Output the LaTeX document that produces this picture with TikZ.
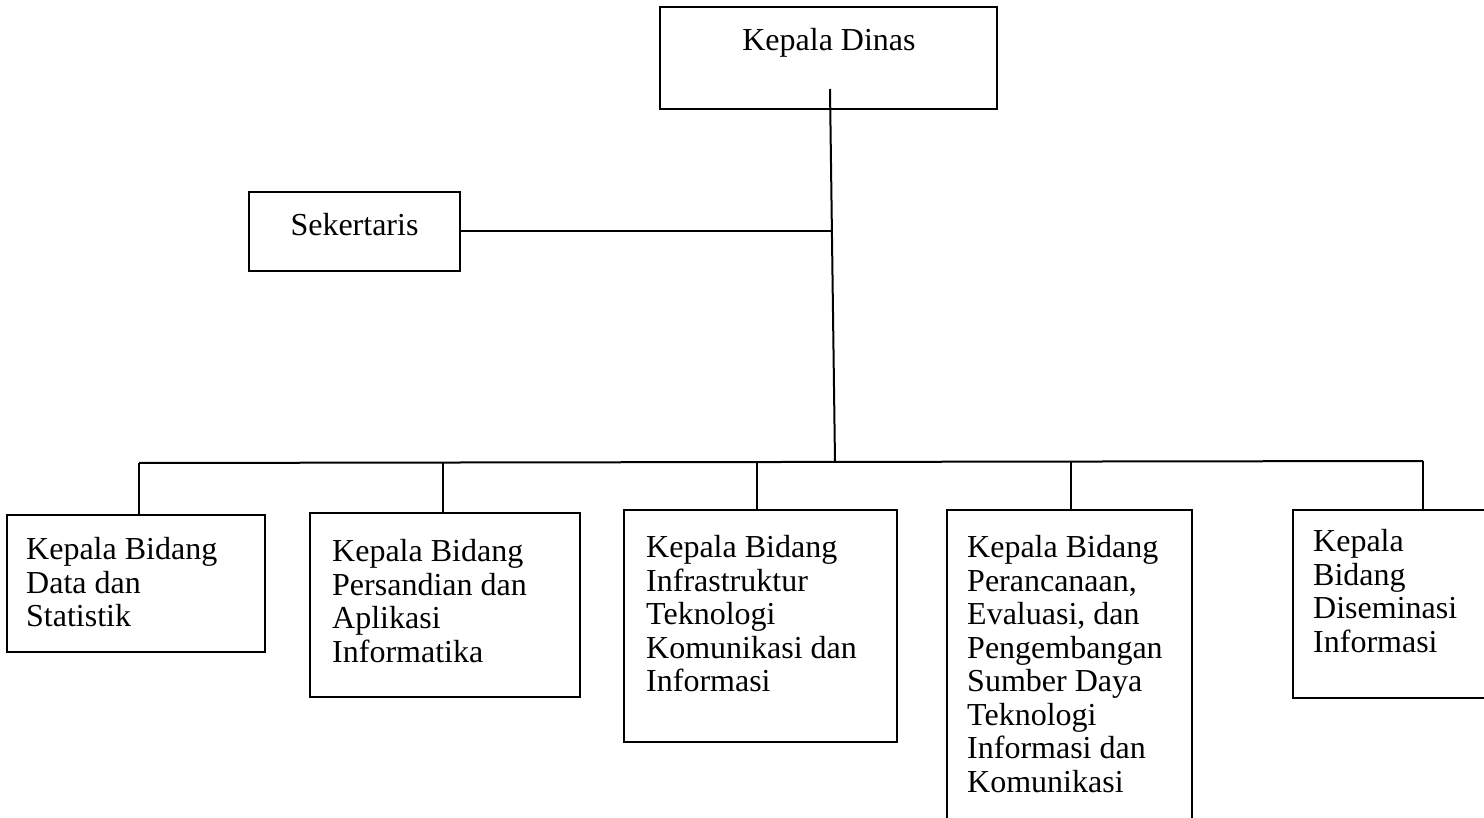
\documentclass[tikz,border=0pt]{standalone}
\usepackage{fontspec}
\setmainfont{Liberation Serif}
\begin{document}
\begin{tikzpicture}[x=1pt,y=-1pt,
  box/.style={draw, line width=2pt, inner sep=0pt, outer sep=0pt, anchor=north west},
  lbl/.style={font=\fontsize{32}{33.5}\selectfont, inner sep=0pt, align=left},
  blk/.style={lbl, anchor=north west, execute at begin node=\strut},
  conn/.style={line width=2pt}]
\clip (0,0) rectangle (1484,818);
% boxes
\node[box, minimum width=337pt, minimum height=102pt] (kd) at (660,7) {};
\node[box, minimum width=211pt, minimum height=79pt] (sek) at (249,192) {};
\node[box, minimum width=258pt, minimum height=137pt] (b1) at (7,515) {};
\node[box, minimum width=270pt, minimum height=184pt] (b2) at (310,513) {};
\node[box, minimum width=273pt, minimum height=232pt] (b3) at (624,510) {};
\node[box, minimum width=245pt, minimum height=330pt] (b4) at (947,510) {};
\node[box, minimum width=207pt, minimum height=188pt] (b5) at (1293,510) {};
% texts (north west = first baseline - 23.45)
\node[lbl, anchor=base] (tkd) at (829,51) {Kepala Dinas};
\node[lbl, anchor=base] (tsek) at (354.5,236) {Sekertaris};
\node[blk] (t1) at (26,537.5) {Kepala Bidang\\Data dan\\Statistik};
\node[blk] (t2) at (332,539.5) {Kepala Bidang\\Persandian dan\\Aplikasi\\Informatika};
\node[blk] (t3) at (646,535.5) {Kepala Bidang\\Infrastruktur\\Teknologi\\Komunikasi dan\\Informasi};
\node[blk] (t4) at (967,535.5) {Kepala Bidang\\Perancanaan,\\Evaluasi, dan\\Pengembangan\\Sumber Daya\\Teknologi\\Informasi dan\\Komunikasi};
\node[blk] (t5) at (1313,529.5) {Kepala\\Bidang\\Diseminasi\\Informasi};
% connectors
\coordinate (top) at (830,89);
\coordinate (js) at (831.5,231.5);
\coordinate (jb) at (835,462);
\coordinate (d1) at (139,463);
\coordinate (d2) at (443,463);
\coordinate (d3) at (757,462);
\coordinate (d4) at (1071,461);
\coordinate (d5) at (1423,461);
\draw[conn] (top) -- (jb);
\draw[conn] (sek.east) -- (js);
\draw[conn] (d1) -- (d5);
\draw[conn] (d1) -- (d1 |- b1.north);
\draw[conn] (d2) -- (d2 |- b2.north);
\draw[conn] (d3) -- (d3 |- b3.north);
\draw[conn] (d4) -- (d4 |- b4.north);
\draw[conn] (d5) -- (d5 |- b5.north);
\end{tikzpicture}
\end{document}
